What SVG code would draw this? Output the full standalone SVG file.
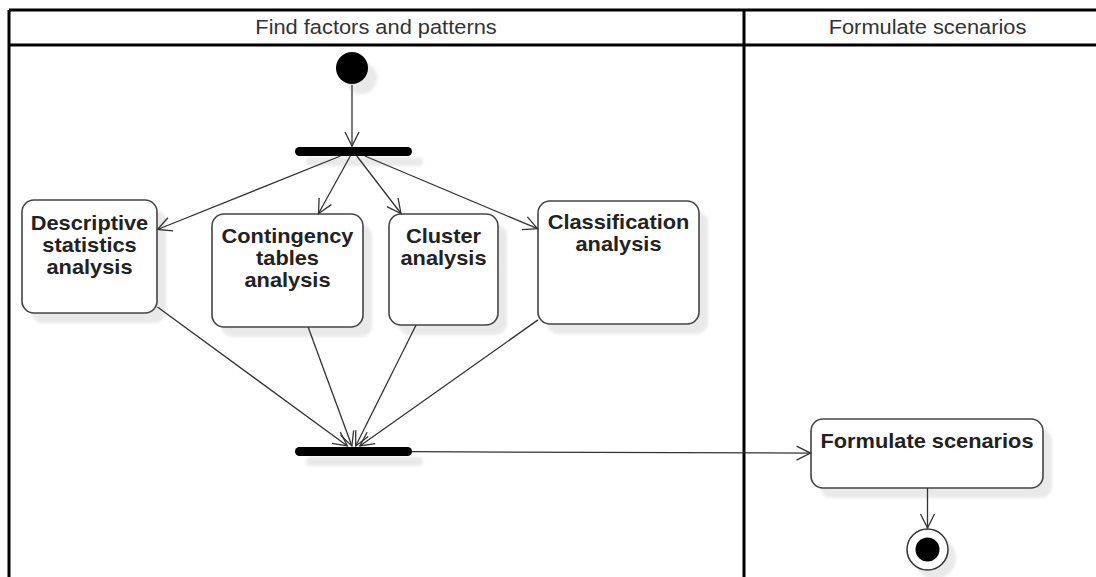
<svg xmlns="http://www.w3.org/2000/svg" width="1096" height="577" viewBox="0 0 1096 577">
<style>
.lane{stroke:#000;stroke-width:3;fill:none}
.hdr{font-family:"Liberation Sans",Arial,sans-serif;font-size:19.5px;fill:#333;text-anchor:middle}
.lbl{font-family:"Liberation Sans",Arial,sans-serif;font-size:20px;font-weight:bold;fill:#222;text-anchor:middle}
.box{fill:#fff;stroke:#444;stroke-width:1.6}
.sh{fill:#e9e9e9;filter:url(#blur)}
.bar{fill:#000}
.edge{stroke:#333;stroke-width:1.3;fill:none;marker-end:url(#open)}
</style>
<defs>
<filter id="blur" x="-20%" y="-20%" width="140%" height="140%"><feGaussianBlur stdDeviation="1.5"/></filter>
<marker id="open" markerUnits="userSpaceOnUse" markerWidth="20" markerHeight="20" viewBox="-16 -10 20 20" refX="0" refY="0" orient="auto">
<path d="M -14 -7 L 0 0 L -14 7" fill="none" stroke="#333" stroke-width="1.3"/>
</marker>
</defs>
<rect width="1096" height="577" fill="#fff"/>
<g id="lanes">
<line class="lane" x1="9" y1="10" x2="1096" y2="10"/>
<line class="lane" x1="9" y1="45" x2="1096" y2="45"/>
<line class="lane" x1="9" y1="10" x2="9" y2="577"/>
<line class="lane" x1="744" y1="10" x2="744" y2="577"/>
<text class="hdr" transform="translate(376,34) scale(1.12,1)">Find factors and patterns</text>
<text class="hdr" transform="translate(927.5,34) scale(1.12,1)">Formulate scenarios</text>
</g>
<g id="start">
<circle class="sh" cx="361" cy="78" r="16"/>
<circle cx="352" cy="68" r="16" fill="#000"/>
</g>
<g id="fork">
<rect class="sh" x="306" y="157" width="117" height="9" rx="4.5"/>
<rect class="bar" x="295" y="147" width="117" height="9" rx="4.5"/>
</g>
<g id="descriptive">
<rect class="sh" x="31" y="210" width="135" height="113" rx="12"/>
<rect class="box" x="22" y="200" width="135" height="113" rx="12"/>
<text class="lbl" transform="translate(89.5,230) scale(1.09,1)"><tspan x="0" y="0">Descriptive</tspan><tspan x="0" y="22">statistics</tspan><tspan x="0" y="44">analysis</tspan></text>
</g>
<g id="contingency">
<rect class="sh" x="221" y="224" width="151" height="113" rx="12"/>
<rect class="box" x="212" y="214" width="151" height="113" rx="12"/>
<text class="lbl" transform="translate(287.5,243) scale(1.09,1)"><tspan x="0" y="0">Contingency</tspan><tspan x="0" y="22">tables</tspan><tspan x="0" y="44">analysis</tspan></text>
</g>
<g id="cluster">
<rect class="sh" x="398" y="224" width="109" height="111" rx="12"/>
<rect class="box" x="389" y="214" width="109" height="111" rx="12"/>
<text class="lbl" transform="translate(443.5,243) scale(1.09,1)"><tspan x="0" y="0">Cluster</tspan><tspan x="0" y="22">analysis</tspan></text>
</g>
<g id="classification">
<rect class="sh" x="547" y="211" width="161" height="123" rx="12"/>
<rect class="box" x="538" y="201" width="161" height="123" rx="12"/>
<text class="lbl" transform="translate(618.5,229) scale(1.09,1)"><tspan x="0" y="0">Classification</tspan><tspan x="0" y="22">analysis</tspan></text>
</g>
<g id="join">
<rect class="sh" x="306" y="457" width="117" height="9" rx="4.5"/>
<rect class="bar" x="295" y="447" width="117" height="9" rx="4.5"/>
</g>
<g id="formulate">
<rect class="sh" x="820" y="429" width="232" height="69" rx="12"/>
<rect class="box" x="811" y="419" width="232" height="69" rx="12"/>
<text class="lbl" transform="translate(927,448) scale(1.09,1)">Formulate scenarios</text>
</g>
<g id="end">
<circle class="sh" cx="935" cy="558" r="21"/>
<circle cx="927.5" cy="549.5" r="20.5" fill="#fff" stroke="#333" stroke-width="1.5"/>
<circle cx="927.5" cy="549.5" r="12" fill="#000"/>
</g>
<g id="connectors">
<line class="edge" x1="352" y1="85" x2="352" y2="146"/>
<line class="edge" x1="340.5" y1="156" x2="157.5" y2="229.5"/>
<line class="edge" x1="350.3" y1="156" x2="318.5" y2="213.5"/>
<line class="edge" x1="356.8" y1="156" x2="401" y2="213.5"/>
<line class="edge" x1="364.9" y1="156" x2="537.5" y2="228.7"/>
<line class="edge" x1="157.5" y1="307" x2="347.4" y2="446"/>
<line class="edge" x1="308.1" y1="327" x2="351.9" y2="446"/>
<line class="edge" x1="416.1" y1="325" x2="355.7" y2="446"/>
<line class="edge" x1="538" y1="319.9" x2="359.8" y2="446"/>
<line class="edge" x1="412" y1="451.7" x2="810.5" y2="453.1"/>
<line class="edge" x1="927.5" y1="488" x2="927.5" y2="528"/>
</g>
</svg>
